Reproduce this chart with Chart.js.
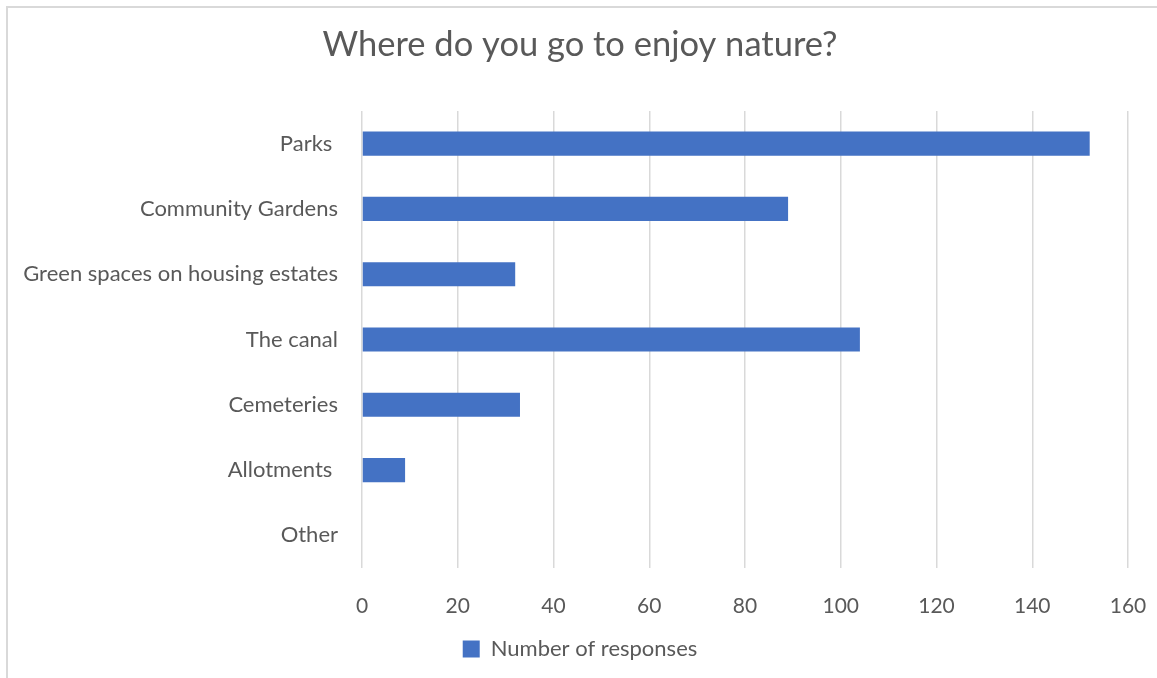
<!DOCTYPE html>
<html>
<head>
<meta charset="utf-8">
<script src="https://cdn.jsdelivr.net/npm/chart.js@4/dist/chart.umd.min.js"></script>
<style>
  html, body { margin: 0; padding: 0; background: #fff; }
  #wrap { position: relative; width: 1157px; height: 678px; overflow: hidden; }
  #frame { position: absolute; left: 6px; top: 6px; width: 1200px; height: 700px;
           border-left: 2px solid #d9d9d9; border-top: 2px solid #d9d9d9; }
  #chart { position: absolute; left: 0; top: 0; }
</style>
</head>
<body>
<div id="wrap">
  <div id="frame"></div>
  <canvas id="chart" width="1157" height="678"></canvas>
</div>
<script>
"use strict";

const categories = ['Parks ', 'Community Gardens', 'Green spaces on housing estates',
  'The canal', 'Cemeteries', 'Allotments ', 'Other'];
const responses = [152, 89, 32, 104, 33, 9, 0];
const xTicks = [0, 20, 40, 60, 80, 100, 120, 140, 160];

const FONT = 'Lato, "Open Sans", sans-serif';
const TEXT = '#595959';
const GRID = '#d9d9d9';

new Chart(document.getElementById('chart'), {
  type: 'bar',
  data: {
    labels: categories,
    datasets: [{
      label: 'Number of responses',
      data: responses,
      backgroundColor: '#4472c4',
      barPercentage: 0.37,
      categoryPercentage: 1,
    }],
  },
  options: {
    indexAxis: 'y',
    responsive: false,
    animation: false,
    layout: { padding: { left: 32, right: 29, top: 0, bottom: 8 } },
    plugins: {
      title: {
        display: true,
        text: 'Where do you go to enjoy nature?',
        color: TEXT,
        font: { family: FONT, size: 34.5, weight: 'normal' },
        padding: { top: 24, bottom: 45.6 },
      },
      legend: {
        position: 'bottom',
        labels: {
          color: TEXT,
          font: { family: FONT, size: 22 },
          boxWidth: 17,
          boxHeight: 17,
          padding: 10,
        },
      },
      tooltip: { enabled: false },
    },
    scales: {
      x: {
        min: 0,
        max: 160,
        afterBuildTicks: (s) => { s.ticks = xTicks.map(v => ({ value: v })); },
        afterFit: (s) => { s.height = 60; s.paddingLeft = 0; s.paddingRight = 0; },
        grid: { color: GRID, lineWidth: 1.5, drawTicks: false },
        border: { display: false },
        ticks: { color: TEXT, font: { family: FONT, size: 21 }, padding: 26 },
      },
      y: {
        afterFit: (s) => {
          s.width = 330;
          // long labels run into the left padding, so don't clip them
          s._computeLabelArea = () => undefined;
        },
        grid: { display: false, drawTicks: false },
        border: { display: false },
        ticks: { color: TEXT, font: { family: FONT, size: 22 }, padding: 24 },
      },
    },
  },
});
</script>
</body>
</html>
